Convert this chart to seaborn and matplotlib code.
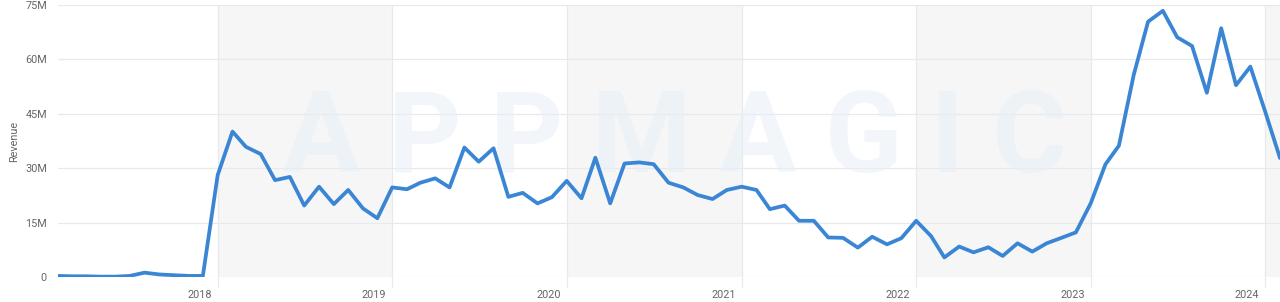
import matplotlib
matplotlib.use("Agg")
import matplotlib.pyplot as plt
import matplotlib.transforms as mtransforms
import seaborn as sns
import pandas as pd

# ---- data (monthly revenue, USD millions) ----
start_month = "2017-02-01"
revenue_m = [
    0.3, 0.2, 0.2, 0.1, 0.1, 0.3, 1.2, 0.7, 0.5, 0.3, 0.3,          # Feb-Dec 2017
    28.1, 40.1, 35.9, 33.9, 26.7, 27.6, 19.7, 24.9, 20.1, 24.0, 18.9, 16.2,  # 2018
    24.7, 24.2, 26.0, 27.2, 24.7, 35.7, 31.8, 35.5, 22.1, 23.2, 20.3, 22.0,  # 2019
    26.5, 21.7, 32.9, 20.3, 31.3, 31.6, 31.1, 26.0, 24.7, 22.6, 21.5, 24.0,  # 2020
    24.9, 24.0, 18.7, 19.7, 15.5, 15.5, 10.9, 10.8, 8.1, 11.1, 9.0, 10.7,    # 2021
    15.5, 11.3, 5.4, 8.4, 6.8, 8.2, 5.8, 9.3, 7.0, 9.3, 10.8, 12.3,          # 2022
    20.3, 31.1, 36.2, 55.7, 70.4, 73.4, 66.1, 63.7, 50.8, 68.6, 52.9, 58.0,  # 2023
    45.6, 32.8,                                                              # 2024
]
year_labels = ["2018", "2019", "2020", "2021", "2022", "2023", "2024"]
y_ticks = [0, 15, 30, 45, 60, 75]
y_tick_labels = ["0", "15M", "30M", "45M", "60M", "75M"]
shaded_years = ["2018", "2020", "2022", "2024"]

dates = pd.date_range(start_month, periods=len(revenue_m), freq="MS")
df = pd.DataFrame({"date": dates, "revenue": revenue_m})

sns.set_theme(style="white")
plt.rcParams["font.family"] = ["Roboto", "DejaVu Sans"]

fig = plt.figure(figsize=(12.8, 3.02), dpi=100)
ax = fig.add_axes([58 / 1280, 25 / 302, 1 - 58 / 1280, (277 - 5) / 302])

x_start = pd.Timestamp(start_month)
x_end = pd.Timestamp("2024-02-01")

# alternating year bands
for yr in shaded_years:
    a = pd.Timestamp(f"{yr}-01-01")
    b = min(pd.Timestamp(f"{int(yr) + 1}-01-01"), x_end + pd.Timedelta(days=40))
    ax.axvspan(a, b, color="#f6f6f7", zorder=0, lw=0)

# watermark
ax.text(0.505, 0.5, "A P P M A G I C", transform=ax.transAxes, ha="center", va="center",
        fontsize=82, fontweight="bold", color="#e6eff8", alpha=0.5, zorder=1)

sns.lineplot(data=df, x="date", y="revenue", ax=ax, color="#3a86d4", linewidth=2.7,
             zorder=3, clip_on=True)

ax.set_xlim(x_start, x_end)
ax.set_ylim(0, 75)

ax.set_yticks(y_ticks)
ax.set_yticklabels(y_tick_labels)
ax.yaxis.grid(True, color="#e8e9eb", linewidth=0.9)
ax.xaxis.grid(True, color="#e8e9eb", linewidth=0.9)
ax.set_axisbelow(True)

year_ticks = [pd.Timestamp(f"{y}-01-01") for y in year_labels]
ax.set_xticks(year_ticks)
ax.set_xticklabels(year_labels)
ax.tick_params(axis="x", length=7.5, width=0.9, color="#e8e9eb", pad=2,
               labelsize=7.8, labelcolor="#666666", direction="out", bottom=True)
ax.tick_params(axis="y", length=0, pad=8, labelsize=7.8, labelcolor="#666666")

offset = mtransforms.ScaledTranslation(-6 / 100, 0, fig.dpi_scale_trans)
for lab in ax.get_xticklabels():
    lab.set_horizontalalignment("right")
    lab.set_transform(lab.get_transform() + offset)

ax.set_xlabel("")
ax.set_ylabel("Revenue", fontsize=7.8, color="#666666", labelpad=4)

for s in ax.spines.values():
    s.set_visible(False)

fig.savefig("out.png", dpi=100, facecolor="white")
